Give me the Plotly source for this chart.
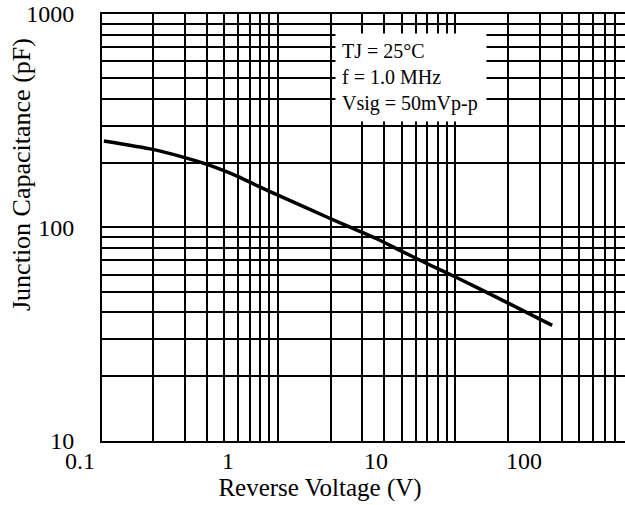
import plotly.graph_objects as go

# ---- data (reverse voltage in V, capacitance in pF)
voltage = [0.145, 0.31, 0.49, 0.68, 0.91, 1.15, 1.65, 2.25, 4.9, 7.7,
           10.6, 14.5, 22, 35, 77, 155]
capacitance = [254, 232, 214, 200, 186, 174, 154.5, 140, 110, 96,
               87, 78, 67.7, 58.2, 44.4, 34.7]

x_tick_vals = [0.1, 1, 10, 100]
x_tick_text = ["0.1", "1", "10", "100"]
y_tick_major = [10, 100, 1000]

grid_mantissas = [1, 2, 3, 4, 5, 6, 7, 8, 9]
x_grid_decades = [0.1, 1, 10]
y_grid_decades = [10, 100]

note_lines = ["TJ = 25°C", "f = 1.0 MHz", "Vsig = 50mVp-p"]

x_title = "Reverse Voltage (V)"
y_title = "Junction Capacitance (pF)"

# ---- derived grid values
x_grid = [m * d for d in x_grid_decades for m in grid_mantissas] + [100]
y_grid = [m * d for d in y_grid_decades for m in grid_mantissas] + [1000]
y_text = [str(v) if v in y_tick_major else "" for v in y_grid]

FONT = "Liberation Serif, Times New Roman, serif"
W, H = 625, 505
plot_left, plot_top, plot_bottom = 102, 14, 440.7
ydom = [(H - plot_bottom) / H, (H - plot_top) / H]

fig = go.Figure()

# empty trace so the grid subplot is created
fig.add_trace(go.Scatter(x=[], y=[], xaxis="x", yaxis="y", showlegend=False,
                         hoverinfo="skip"))

fig.add_trace(go.Scatter(
    x=voltage, y=capacitance, xaxis="x2", yaxis="y2", mode="lines",
    line=dict(color="black", width=3.5, shape="spline", smoothing=0.6),
    showlegend=False))

fig.update_layout(
    width=W, height=H,
    margin=dict(l=0, r=0, t=0, b=0),
    paper_bgcolor="white", plot_bgcolor="rgba(0,0,0,0)",
    font=dict(family=FONT, color="black", size=24),
    showlegend=False,
    xaxis=dict(
        type="log", domain=[plot_left / W, 1], range=[-0.989, 1.958],
        tickvals=x_grid, showticklabels=False, ticks="",
        showgrid=True, gridcolor="black", gridwidth=1.8,
        showline=True, linecolor="black", linewidth=2, mirror=True,
        zeroline=False, anchor="y", automargin=False, fixedrange=True),
    yaxis=dict(
        type="log", domain=ydom, range=[1, 3],
        tickvals=y_grid, ticktext=y_text, ticks="",
        ticklabelstandoff=21,
        tickfont=dict(size=24, family=FONT),
        showgrid=True, gridcolor="black", gridwidth=1.8,
        showline=True, linecolor="black", linewidth=2, mirror=False,
        zeroline=False, anchor="x", automargin=False, fixedrange=True),
    xaxis2=dict(
        type="log", domain=[0.024, 1], range=[-1.4392, 2.6824],
        tickvals=x_tick_vals, ticktext=x_tick_text, ticks="",
        ticklabelstandoff=3,
        tickfont=dict(size=24, family=FONT),
        showgrid=False, showline=False, zeroline=False,
        anchor="y2", automargin=False, fixedrange=True,
        title=dict(text=x_title, font=dict(size=25, family=FONT), standoff=4)),
    yaxis2=dict(
        type="log", domain=ydom, range=[1, 3], visible=False,
        anchor="x2", fixedrange=True),
)

fig.add_annotation(
    xref="paper", yref="paper", x=21 / W, y=1 - 175 / H,
    text=y_title, textangle=-90, showarrow=False,
    font=dict(size=26, family=FONT), xanchor="center", yanchor="middle")

fig.add_annotation(
    xref="paper", yref="paper", x=335 / W, y=1 - 33 / H,
    xanchor="left", yanchor="top", align="left", valign="middle",
    text="<br>".join(note_lines), showarrow=False,
    bgcolor="white", borderpad=6, width=138, height=75,
    font=dict(size=20, family=FONT))

fig.write_html("out.html",
               config={"displayModeBar": False},
               post_script="document.body.style.margin='0px';")
